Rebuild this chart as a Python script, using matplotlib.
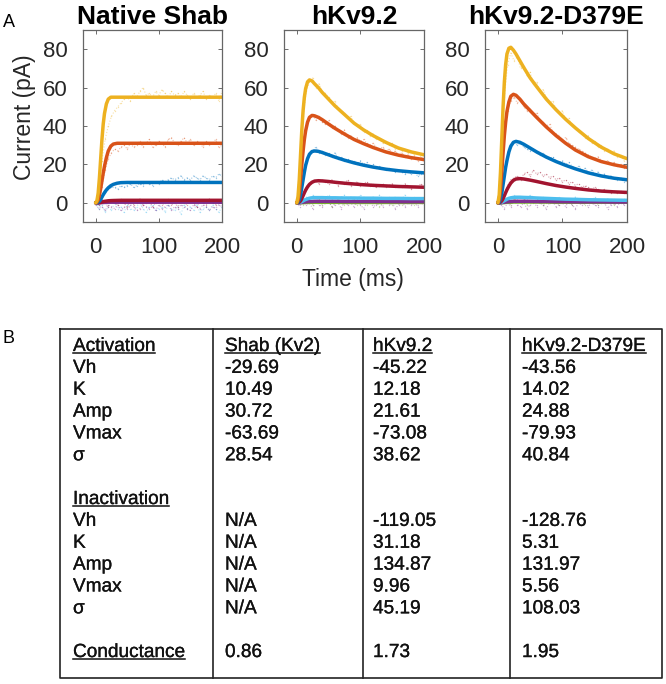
import matplotlib
matplotlib.use('Agg')
import matplotlib.pyplot as plt
import matplotlib.patheffects as pe

plt.rcParams['font.family'] = ['Liberation Sans', 'DejaVu Sans']

# ---------------- data ----------------
panel_titles = ["Native Shab", "hKv9.2", "hKv9.2-D379E"]
x_ticks = [0, 100, 200]
y_ticks = [0, 20, 40, 60, 80]

t_raw = list(range(0, 201, 5))
t_fit = [0, 2, 4, 6, 8, 10, 12, 14, 17, 20, 24, 28, 34, 40, 50, 60, 75, 90, 105, 120, 140, 160, 180, 200]

# Native Shab raw traces
shab_raw_yellow = [0, 8, 22, 33, 40, 45, 48, 50, 52, 54, 55, 53, 57, 55, 58, 60, 56, 57, 55, 58, 56, 59, 57, 55, 58, 56, 57, 55, 58, 56, 54, 57, 55, 56, 58, 54, 56, 55, 57, 53, 58]
shab_raw_orange = [0, 1, 8, 17, 23, 26, 28, 27, 29, 30, 28, 31, 29, 30, 32, 29, 31, 33, 29, 30, 32, 31, 29, 33, 34, 31, 30, 32, 34, 31, 33, 30, 32, 31, 29, 32, 30, 31, 33, 29, 30]
shab_raw_blue = [0, -1, 2, 5, 7, 8, 8, 7, 9, 8, 9, 10, 8, 9, 10, 9, 11, 10, 9, 11, 10, 12, 11, 12, 13, 12, 13, 14, 12, 13, 12, 14, 13, 12, 14, 13, 12, 14, 13, 15, 14]
shab_raw_red = [0, -1, 1, 0, -2, 1, 0, -1, 2, 0, -2, 1, -1, 0, 2, -1, 0, 1, -2, 0, 1, -1, 0, 2, -1, 0, -2, 1, 0, -1, 1, 0, -2, 1, 0, -1, 2, 0, -1, 1, 0]
shab_raw_purple = [-1, -3, -2, -4, -1, -2, -3, -1, -4, -2, -3, -1, -2, -4, -3, -1, -2, -3, -2, -4, -1, -3, -2, -1, -4, -2, -3, -1, -2, -3, -4, -1, -2, -3, -1, -2, -4, -2, -3, -1, -2]
shab_raw_cyan = [0, -3, -1, -5, -2, -4, 0, -3, -2, -5, -1, -3, -4, -2, 0, -3, -5, -2, -1, -4, -3, -2, -5, -1, -3, -4, -2, -6, -1, -3, -2, -4, -1, -5, -3, -2, -4, -1, -3, -5, -2]

# hKv9.2 raw traces
kv_raw_yellow = [0, 20, 45, 58, 63, 65, 60, 62, 58, 57, 55, 52, 53, 49, 48, 47, 44, 45, 41, 40, 41, 37, 38, 35, 36, 33, 34, 31, 32, 30, 31, 28, 29, 27, 28, 26, 27, 25, 26, 24, 25]
kv_raw_orange = [0, 10, 30, 40, 44, 46, 43, 45, 42, 41, 43, 39, 40, 38, 36, 38, 34, 35, 33, 34, 32, 33, 31, 30, 31, 29, 28, 29, 27, 28, 26, 27, 25, 26, 24, 25, 23, 24, 22, 23, 22]
kv_raw_blue = [0, 3, 14, 22, 25, 27, 29, 26, 27, 25, 26, 24, 26, 23, 24, 22, 23, 21, 22, 20, 22, 20, 21, 19, 20, 18, 19, 18, 17, 18, 17, 16, 17, 16, 15, 16, 15, 16, 14, 15, 16]
kv_raw_red = [0, 1, 4, 8, 10, 11, 12, 10, 12, 11, 10, 12, 11, 9, 11, 10, 12, 9, 10, 11, 9, 10, 11, 9, 10, 8, 9, 10, 8, 9, 10, 8, 9, 8, 10, 9, 7, 9, 8, 10, 8]
kv_raw_cyan = [0, 0, 1, 3, 2, 4, 3, 1, 3, 2, 4, 2, 3, 1, 3, 4, 2, 3, 1, 2, 4, 3, 2, 1, 3, 2, 4, 2, 1, 3, 2, 3, 1, 2, 4, 2, 1, 3, 2, 1, 2]
kv_raw_purple = [0, -2, 1, -1, 0, -3, 1, -1, -2, 0, 1, -2, -1, 0, -3, 1, -1, 0, -2, 1, -1, -3, 0, 1, -2, -1, 0, -2, 1, -1, 0, -3, -1, 1, -2, 0, -1, 1, -2, 0, -1]
kv_raw_green = [0, 1, -1, 2, 0, -1, 1, 2, -1, 0, 1, -2, 0, 2, 1, -1, 0, 1, 2, -1, 0, 1, -1, 2, 0, 1, -2, 0, 1, 2, -1, 0, 1, -1, 2, 0, 1, -1, 0, 2, 1]

# hKv9.2-D379E raw traces
mut_raw_yellow = [0, 25, 55, 72, 78, 74, 76, 70, 71, 66, 68, 62, 63, 58, 59, 55, 52, 53, 49, 47, 48, 43, 44, 40, 39, 37, 36, 34, 35, 31, 32, 29, 30, 27, 28, 26, 27, 24, 25, 22, 24]
mut_raw_orange = [0, 12, 35, 48, 53, 55, 52, 54, 50, 48, 49, 46, 47, 43, 42, 40, 41, 37, 36, 35, 33, 34, 31, 30, 29, 28, 27, 26, 25, 24, 23, 24, 22, 21, 22, 20, 21, 19, 20, 18, 19]
mut_raw_blue = [0, 4, 16, 25, 29, 32, 30, 31, 29, 28, 27, 28, 26, 25, 26, 24, 23, 24, 22, 21, 22, 20, 21, 19, 18, 19, 17, 18, 16, 17, 15, 16, 14, 15, 13, 14, 13, 12, 13, 11, 12]
mut_raw_red = [0, 1, 5, 9, 12, 13, 14, 12, 15, 16, 14, 17, 15, 16, 14, 15, 13, 14, 12, 13, 11, 12, 10, 11, 9, 10, 8, 9, 8, 7, 8, 7, 6, 7, 6, 5, 6, 5, 6, 5, 5]
mut_raw_cyan = [0, 1, 2, 3, 1, 4, 2, 3, 1, 2, 4, 3, 1, 2, 3, 1, 2, 0, 2, 3, 1, 2, 0, 1, 3, 2, 1, 0, 2, 1, 3, 1, 0, 2, 1, 0, 2, 1, 0, 1, 2]
mut_raw_purple = [0, -1, -3, 0, -2, 1, -1, -2, 0, -3, -1, 1, -2, 0, -1, -3, 0, 1, -2, -1, 0, -2, 1, -1, -3, 0, -1, 1, -2, 0, -1, -2, 1, 0, -3, -1, 0, -2, 1, -1, 0]
mut_raw_green = [0, 2, 0, 1, -1, 2, 1, 0, 2, -1, 1, 0, 2, 1, -1, 0, 2, 1, 0, -1, 2, 0, 1, -1, 1, 2, 0, -1, 1, 0, 2, -1, 0, 1, 2, 0, -1, 1, 0, 2, 1]

# fitted curves (on t_fit)
shab_fit_yellow = [0, 1, 5, 13, 23, 33, 41, 46.5, 51.5, 54, 55, 55, 55, 55, 55, 55, 55, 55, 55, 55, 55, 55, 55, 55]
shab_fit_orange = [0, 0.3, 1.5, 4, 7.5, 11.5, 15.5, 19, 23.5, 27, 29.5, 30.6, 31, 31, 31, 31, 31, 31, 31, 31, 31, 31, 31, 31]
shab_fit_blue = [0, 0, 0.3, 0.8, 1.8, 3, 4.2, 5.3, 6.7, 7.8, 8.9, 9.6, 10.2, 10.5, 10.6, 10.6, 10.6, 10.6, 10.6, 10.6, 10.6, 10.6, 10.6, 10.6]
shab_fit_red = [0, 0, 0, 0.1, 0.2, 0.4, 0.6, 0.75, 0.9, 1.05, 1.15, 1.2, 1.25, 1.3, 1.3, 1.3, 1.3, 1.3, 1.3, 1.3, 1.3, 1.3, 1.3, 1.3]
shab_fit_purple = [0, 0, 0, 0, 0.05, 0.1, 0.15, 0.2, 0.25, 0.3, 0.3, 0.3, 0.3, 0.3, 0.3, 0.3, 0.3, 0.3, 0.3, 0.3, 0.3, 0.3, 0.3, 0.3]

kv_fit_yellow = [0, 3, 12, 25, 38, 48, 55, 59.5, 63, 64, 63.5, 62, 60, 57.5, 54, 50.5, 46, 41.5, 38, 35, 31.5, 28.5, 26.5, 25]
kv_fit_orange = [0, 1, 5, 12, 20, 27, 33, 37.5, 42, 44.5, 45.5, 45.3, 44.5, 43.3, 41, 38.8, 35.8, 33, 30.8, 28.8, 26.5, 24.8, 23.5, 22.5]
kv_fit_blue = [0, 0.2, 1.5, 4, 8, 12, 16, 19.5, 23, 25.3, 26.7, 27, 26.8, 26.2, 25, 23.8, 22.2, 20.8, 19.6, 18.6, 17.5, 16.7, 16.1, 15.6]
kv_fit_red = [0, 0, 0.3, 1, 2.2, 3.7, 5.2, 6.6, 8.3, 9.6, 10.7, 11.3, 11.5, 11.4, 11.1, 10.7, 10.2, 9.8, 9.4, 9.1, 8.8, 8.5, 8.3, 8.1]
kv_fit_cyan = [0, 0, 0.1, 0.3, 0.6, 1, 1.4, 1.7, 2.1, 2.4, 2.6, 2.7, 2.7, 2.7, 2.6, 2.6, 2.5, 2.5, 2.4, 2.4, 2.3, 2.3, 2.2, 2.2]
kv_fit_purple = [0, 0, 0, 0.1, 0.2, 0.3, 0.4, 0.5, 0.6, 0.7, 0.7, 0.8, 0.8, 0.8, 0.8, 0.8, 0.7, 0.7, 0.7, 0.7, 0.7, 0.6, 0.6, 0.6]
kv_fit_green = [0, 0, 0, 0, 0.05, 0.1, 0.1, 0.15, 0.2, 0.2, 0.25, 0.25, 0.25, 0.25, 0.25, 0.25, 0.2, 0.2, 0.2, 0.2, 0.2, 0.2, 0.2, 0.2]

mut_fit_yellow = [0, 4, 16, 33, 50, 63, 72, 77.5, 80.5, 81, 79.5, 77.5, 74, 70.5, 65, 60.5, 54, 48.5, 43.5, 39, 33.5, 29, 25.5, 23]
mut_fit_orange = [0, 1.5, 7, 16, 26, 35, 42, 47.5, 52.5, 55.5, 56.5, 56, 54, 51.5, 48, 44.5, 39.5, 35, 31, 27.5, 24, 21.5, 19.8, 18.5]
mut_fit_blue = [0, 0.3, 2, 5, 9.5, 14, 18.5, 22, 26.5, 29.5, 31.5, 32, 31.5, 30.5, 28.5, 26.5, 23.8, 21.5, 19.5, 17.7, 15.6, 14, 12.8, 12]
mut_fit_red = [0, 0, 0.3, 1, 2.2, 3.7, 5.3, 6.8, 8.7, 10.3, 11.7, 12.4, 12.6, 12.4, 11.8, 11.1, 10, 9, 8.2, 7.5, 6.7, 6.1, 5.7, 5.4]
mut_fit_cyan = [0, 0, 0.1, 0.3, 0.7, 1.1, 1.5, 1.9, 2.3, 2.6, 2.8, 2.9, 2.9, 2.8, 2.7, 2.5, 2.3, 2.1, 1.9, 1.8, 1.6, 1.5, 1.4, 1.3]
mut_fit_purple = [0, 0, 0, 0.1, 0.2, 0.3, 0.4, 0.5, 0.6, 0.7, 0.8, 0.8, 0.8, 0.8, 0.8, 0.7, 0.7, 0.6, 0.6, 0.5, 0.5, 0.5, 0.4, 0.4]
mut_fit_green = [0, 0, 0, 0, 0.1, 0.1, 0.2, 0.2, 0.3, 0.3, 0.4, 0.4, 0.4, 0.4, 0.4, 0.4, 0.4, 0.3, 0.3, 0.3, 0.3, 0.3, 0.3, 0.3]

# table
row_labels = ["Activation", "Vh", "K", "Amp", "Vmax", "σ", "",
              "Inactivation", "Vh", "K", "Amp", "Vmax", "σ", "", "Conductance"]
col_headers = ["Shab (Kv2)", "hKv9.2", "hKv9.2-D379E"]
shab_act = ["-29.69", "10.49", "30.72", "-63.69", "28.54"]
kv_act = ["-45.22", "12.18", "21.61", "-73.08", "38.62"]
mut_act = ["-43.56", "14.02", "24.88", "-79.93", "40.84"]
shab_inact = ["N/A", "N/A", "N/A", "N/A", "N/A"]
kv_inact = ["-119.05", "31.18", "134.87", "9.96", "45.19"]
mut_inact = ["-128.76", "5.31", "131.97", "5.56", "108.03"]
conductance = ["0.86", "1.73", "1.95"]

# ---------------- style ----------------
C_BLUE, C_ORANGE, C_YELLOW = '#0072BD', '#D95319', '#EDB120'
C_PURPLE, C_GREEN, C_CYAN, C_RED = '#7E2F8E', '#77AC30', '#4DBEEE', '#A2142F'

W, H = 666, 684
fig = plt.figure(figsize=(W / 100, H / 100), dpi=100)


def px_axes(l, t, r, b):
    return fig.add_axes([l / W, 1 - b / H, (r - l) / W, (b - t) / H])


panel_boxes = [(83, 30, 222, 222), (284, 30, 424, 222), (485, 30, 627, 222)]

panels_raw = [
    [(shab_raw_cyan, C_CYAN), (shab_raw_purple, C_PURPLE), (shab_raw_red, C_RED),
     (shab_raw_blue, C_BLUE), (shab_raw_orange, C_ORANGE), (shab_raw_yellow, C_YELLOW)],
    [(kv_raw_green, C_GREEN), (kv_raw_purple, C_PURPLE), (kv_raw_cyan, C_CYAN), (kv_raw_red, C_RED),
     (kv_raw_blue, C_BLUE), (kv_raw_orange, C_ORANGE), (kv_raw_yellow, C_YELLOW)],
    [(mut_raw_green, C_GREEN), (mut_raw_purple, C_PURPLE), (mut_raw_cyan, C_CYAN), (mut_raw_red, C_RED),
     (mut_raw_blue, C_BLUE), (mut_raw_orange, C_ORANGE), (mut_raw_yellow, C_YELLOW)],
]
panels_fit = [
    [(shab_fit_purple, C_PURPLE), (shab_fit_red, C_RED), (shab_fit_blue, C_BLUE),
     (shab_fit_orange, C_ORANGE), (shab_fit_yellow, C_YELLOW)],
    [(kv_fit_green, C_GREEN), (kv_fit_purple, C_PURPLE), (kv_fit_cyan, C_CYAN), (kv_fit_red, C_RED),
     (kv_fit_blue, C_BLUE), (kv_fit_orange, C_ORANGE), (kv_fit_yellow, C_YELLOW)],
    [(mut_fit_green, C_GREEN), (mut_fit_purple, C_PURPLE), (mut_fit_cyan, C_CYAN), (mut_fit_red, C_RED),
     (mut_fit_blue, C_BLUE), (mut_fit_orange, C_ORANGE), (mut_fit_yellow, C_YELLOW)],
]

for box, title, raws, fits in zip(panel_boxes, panel_titles, panels_raw, panels_fit):
    ax = px_axes(*box)
    for vals, c in raws:
        ax.plot(t_raw, vals, color=c, lw=0.8, ls=':', alpha=0.38, marker='.', ms=2.0, mew=0)
    for vals, c in fits:
        ax.plot(t_fit, vals, color=c, lw=2.5, solid_capstyle='round', solid_joinstyle='round')
    ax.set_xlim(-20, 200)
    ax.set_ylim(-10, 90)
    ax.set_xticks(x_ticks)
    ax.set_yticks(y_ticks)
    ax.tick_params(direction='in', top=True, right=True, length=3, width=0.6,
                   color='#555555', labelsize=16, labelcolor='#262626')
    ax.tick_params(axis='x', pad=11)
    ax.tick_params(axis='y', pad=11)
    for s in ax.spines.values():
        s.set_color('#666666')
        s.set_linewidth(0.9)
    ax.set_title(title, fontsize=19, fontweight='bold', pad=4.3)

# overlay for labels and table (pixel coordinates, y down)
ov = fig.add_axes([0, 0, 1, 1])
ov.set_xlim(0, W)
ov.set_ylim(H, 0)
ov.axis('off')

ov.text(3, 27, 'A', fontsize=13, va='baseline', ha='left')
ov.text(3, 343, 'B', fontsize=13, va='baseline', ha='left')
ov.text(25, 117, 'Current (pA)', rotation=90, fontsize=16.5, ha='center', va='center', color='#262626')
ov.text(353, 286, 'Time (ms)', fontsize=16.5, ha='center', va='baseline', color='#262626')

# table frame
lc = '#222222'
tl, tr, tt, tb = 60, 662, 329, 678
ov.plot([tl, tr, tr, tl, tl], [tt, tt, tb, tb, tt], color=lc, lw=1.2)
for xv in (213, 363, 510):
    ov.plot([xv, xv], [tt, tb], color=lc, lw=1.2)

col_x = [73, 225, 373, 522]
base0, dy = 351, 21.86
fs = 13.7
stroke = [pe.withStroke(linewidth=0.2, foreground='#111111')]

col_values = []
for head, act, inact, cond in zip(col_headers, [shab_act, kv_act, mut_act],
                                  [shab_inact, kv_inact, mut_inact], conductance):
    col_values.append([head] + act + ["", ""] + inact + ["", cond])

underline_rows = {0, 7, 14}
to_underline = []
for i, lab in enumerate(row_labels):
    y = base0 + i * dy
    if lab:
        t = ov.text(col_x[0], y, lab, fontsize=fs, va='baseline', ha='left', color='#111111',
                    path_effects=stroke)
        if i in underline_rows:
            to_underline.append((t, y))
for j, vals in enumerate(col_values):
    for i, v in enumerate(vals):
        if not v:
            continue
        y = base0 + i * dy
        t = ov.text(col_x[j + 1], y, v, fontsize=fs, va='baseline', ha='left', color='#111111',
                    path_effects=stroke)
        if i == 0:
            to_underline.append((t, y))

renderer = fig.canvas.get_renderer()
for t, y in to_underline:
    bb = t.get_window_extent(renderer)
    ov.plot([bb.x0, bb.x1], [y + 2.2, y + 2.2], color='#111111', lw=1.1)

fig.savefig('out.png', dpi=100)
